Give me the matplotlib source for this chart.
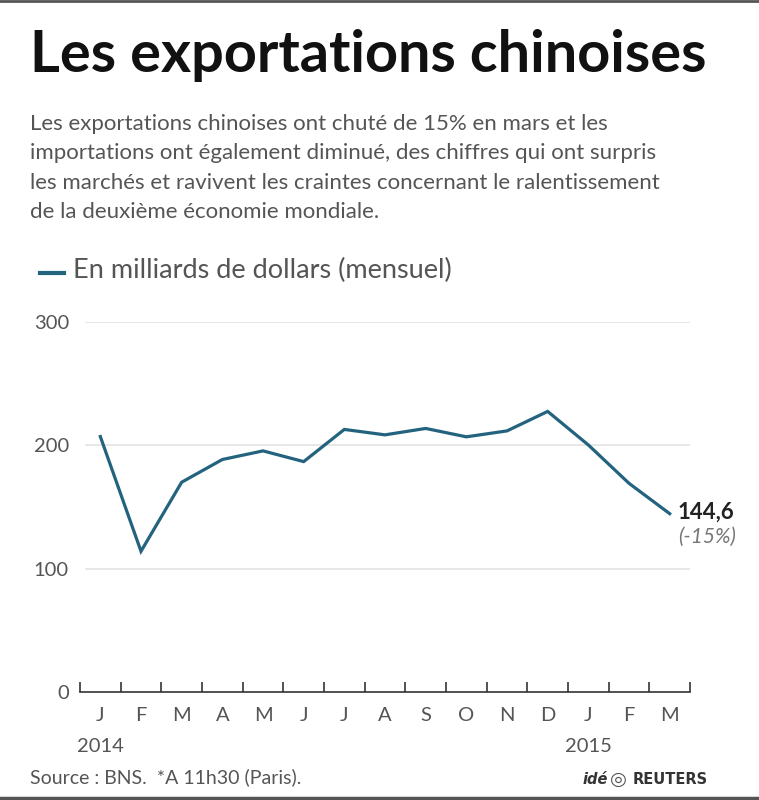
import matplotlib
matplotlib.use("Agg")
import matplotlib.pyplot as plt
from matplotlib.lines import Line2D

# data (billions USD, monthly)
months = ["J", "F", "M", "A", "M", "J", "J", "A", "S", "O", "N", "D", "J", "F", "M"]
exports = [207.1, 114.1, 170.1, 188.5, 195.5, 186.8, 212.9, 208.5, 213.7,
           206.9, 211.7, 227.5, 200.3, 169.2, 144.6]
yticks = [0, 100, 200, 300]
years = ["2014", "2015"]

LINE = "#23637e"
GRAY = "#555555"
BODY = ["Lato", "DejaVu Sans"]

fig = plt.figure(figsize=(7.59, 8.0), dpi=100)
W, H = 759, 800

def fx(px):
    return px / W

def fy(py):
    return 1 - py / H

# frame lines top / bottom
fig.add_artist(Line2D([0, 1], [fy(1), fy(1)], color="#555555", lw=2))
fig.add_artist(Line2D([0, 1], [fy(798), fy(798)], color="#555555", lw=2.5))

fig.text(fx(30), fy(56), "Les exportations chinoises", fontsize=41.5,
         fontweight="bold", family="Lato", color="#111111", va="center")

sub = ("Les exportations chinoises ont chuté de 15% en mars et les\n"
       "importations ont également diminué, des chiffres qui ont surpris\n"
       "les marchés et ravivent les craintes concernant le ralentissement\n"
       "de la deuxième économie mondiale.")
fig.text(fx(30), fy(114), sub, fontsize=16, family=BODY, color=GRAY,
         va="top", linespacing=1.58)

fig.add_artist(Line2D([fx(40), fx(64)], [fy(273), fy(273)], color=LINE, lw=3))
fig.text(fx(73), fy(270), "En milliards de dollars (mensuel)", fontsize=19.5,
         family=BODY, color=GRAY, va="center")

# axes
ax = fig.add_axes([fx(80), fy(692), fx(690) - fx(80), fy(322) - fy(692)])
x = [i + 0.5 for i in range(len(exports))]
ax.plot(x, exports, color=LINE, lw=2.3, solid_joinstyle="miter", zorder=3)
ax.set_xlim(0, len(exports))
ax.set_ylim(0, 300)
for s in ["top", "right", "left"]:
    ax.spines[s].set_visible(False)
ax.spines["bottom"].set_color("#333333")
ax.spines["bottom"].set_linewidth(1.2)

ax.set_yticks(yticks)
ax.set_yticklabels([str(v) for v in yticks], family=BODY, fontsize=14.5,
                   color=GRAY)
ax.tick_params(axis="y", length=0, pad=8)
for v in yticks[1:]:
    ax.axhline(v, xmin=0.01, color="#e3e3e3", lw=1.2, zorder=1)

ax.set_xticks(range(len(exports) + 1))
ax.set_xticklabels([])
ax.tick_params(axis="x", direction="in", length=7, width=1.2, color="#333333")
for xi, m in zip(x, months):
    ax.text(xi, -19, m, ha="center", va="center", fontsize=14.5,
            family=BODY, color=GRAY, clip_on=False)
ax.text(x[0], -44, years[0], ha="center", va="center", fontsize=14.5,
        family=BODY, color=GRAY, clip_on=False)
ax.text(x[12], -44, years[1], ha="center", va="center", fontsize=14.5,
        family=BODY, color=GRAY, clip_on=False)

ax.text(x[-1] + 0.2, exports[-1] + 1.5, "144,6", fontsize=16, fontweight="bold",
        family=BODY, color="#222222", va="center", clip_on=False)
ax.text(x[-1] + 0.2, exports[-1] - 19, "(-15%)", fontsize=15, style="italic",
        family=BODY, color="#777777", va="center", clip_on=False)

fig.text(fx(30), fy(777), "Source : BNS.  *A 11h30 (Paris).", fontsize=14,
         family=BODY, color=GRAY, va="center")
fig.text(fx(583), fy(779), "idé", fontsize=10.5, fontweight="bold",
         style="italic", family="DejaVu Sans", color="#333333", va="center")
fig.text(fx(610), fy(779), "\u25CE", fontsize=14, family="DejaVu Sans",
         color="#555555", va="center")
fig.text(fx(633), fy(779), "REUTERS", fontsize=10.5, fontweight="bold",
         family="DejaVu Sans", color="#333333", va="center")

fig.savefig("out.png", dpi=100)
